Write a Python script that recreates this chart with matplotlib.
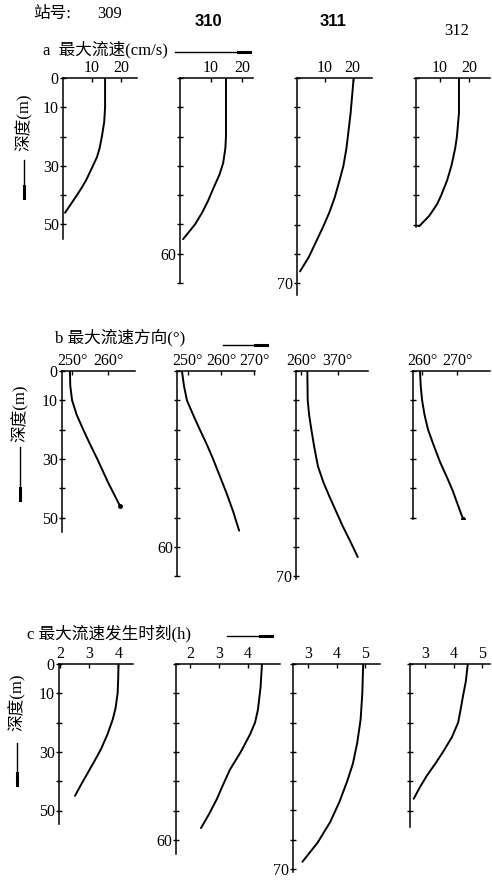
import matplotlib.pyplot as plt

plt.rcParams['font.family'] = ['Liberation Serif', 'Noto Sans CJK SC']

W, H = 492, 884
PX_PER_M = 2.93

stations = ['309', '310', '311', '312']

# a: max current speed (cm/s) vs depth (m)
a309_depth = [0, 10, 15, 20, 24, 27, 30, 35, 38, 41, 46]
a309_speed = [14.5, 14.5, 14.2, 13.4, 12.6, 11.7, 10.3, 7.9, 6.1, 4.1, 0.7]
a310_depth = [0, 20, 24, 29, 33, 38, 42, 46, 50, 55]
a310_speed = [14.8, 14.8, 14.6, 13.9, 12.7, 10.6, 9.0, 7.1, 4.8, 1.0]
a311_depth = [0, 12, 24, 30, 35, 41, 46, 51, 55, 61, 66]
a311_speed = [20.4, 19.3, 17.8, 16.7, 15.3, 13.5, 11.6, 9.3, 7.3, 4.3, 1.1]
a312_depth = [0, 12, 20, 24, 30, 35, 40, 43, 47, 51]
a312_speed = [16.5, 16.5, 15.8, 15.2, 13.9, 12.4, 10.4, 9.0, 6.3, 2.4]

# b: direction of max current (deg)
b309_depth = [0, 5, 10, 15, 20, 25, 30, 38, 46]
b309_dir = [249.4, 249.5, 250.0, 251.3, 253.1, 255.0, 257.0, 260.0, 263.3]
b310_depth = [0, 5, 10, 15, 20, 25, 30, 36, 42, 48, 54.5]
b310_dir = [248.2, 248.8, 249.7, 251.6, 253.6, 255.7, 257.6, 259.7, 261.8, 263.7, 265.5]
b311_depth = [0, 10, 15, 20, 26, 32.5, 38, 43, 48, 53, 58, 63.5]
b311_dir = [261.7, 261.8, 262.2, 262.8, 263.6, 264.6, 266.1, 267.8, 269.6, 271.4, 273.4, 275.5]
b312_depth = [0, 5, 10, 15, 20, 25, 31, 36, 41, 46, 50.5]
b312_dir = [259.4, 259.6, 260.0, 260.7, 261.7, 263.2, 265.1, 267.0, 268.8, 270.3, 271.7]

# c: time of max current (h)
c309_depth = [0, 5, 10, 15, 19, 24, 29, 33, 37, 41, 45]
c309_time = [4.0, 3.99, 3.97, 3.9, 3.8, 3.62, 3.4, 3.18, 2.95, 2.72, 2.5]
c310_depth = [0, 8, 15.6, 20, 24, 30, 36, 41, 46, 51, 56]
c310_time = [4.48, 4.43, 4.34, 4.24, 4.07, 3.75, 3.38, 3.15, 2.93, 2.67, 2.38]
c311_depth = [0, 10, 19, 27, 34, 40, 47, 54, 61, 67.5]
c311_time = [4.93, 4.9, 4.84, 4.72, 4.57, 4.37, 4.1, 3.77, 3.33, 2.8]
c312_depth = [0, 6, 11, 16, 20, 25, 30, 34, 38, 42, 46]
c312_time = [4.5, 4.43, 4.33, 4.24, 4.16, 3.94, 3.63, 3.36, 3.07, 2.82, 2.6]

a_ticks = [10, 20]
a_ticklabels = ['10', '20']
b_ticks = {'309': [250, 260], '310': [250, 260, 270], '311': [260, 270], '312': [260, 270]}
b_ticklabels = {'309': ['250°', '260°'], '310': ['250°', '260°', '270°'],
                '311': ['260°', '370°'], '312': ['260°', '270°']}
c_ticks = {'309': [2, 3, 4], '310': [2, 3, 4], '311': [3, 4, 5], '312': [3, 4, 5]}

depth_labels = {'309': {0: '0', 10: '10', 30: '30', 50: '50'},
                '310': {60: '60'}, '311': {70: '70'}, '312': {}}


def fx(x):
    return x / W


def fy(y):
    return 1 - y / H


fig = plt.figure(figsize=(W / 100, H / 100), dpi=100)


def panel(left, right, top, dmax, xlim, depth, vals, ticks, ticklabels, st, end_dot=False):
    h = dmax * PX_PER_M
    ax = fig.add_axes([fx(left), fy(top + h), (right - left) / W, h / H])
    ax.plot(vals, depth, color='black', lw=1.4, solid_capstyle='round', solid_joinstyle='round')
    if end_dot:
        ax.plot(vals[-1], depth[-1], 'o', color='black', ms=2.5)
    ax.set_xlim(*xlim)
    ax.set_ylim(dmax, 0)
    for s in ['right', 'bottom']:
        ax.spines[s].set_visible(False)
    for s in ['left', 'top']:
        ax.spines[s].set_linewidth(1.1)
    ax.xaxis.tick_top()
    ax.set_xticks(ticks)
    ax.set_xticklabels(ticklabels)
    yt = list(range(0, int(dmax) + 1, 10))
    ax.set_yticks(yt)
    ax.set_yticklabels([depth_labels[st].get(t, '') for t in yt])
    ax.tick_params(axis='x', direction='in', length=3, width=1, pad=1.5, labelsize=11.5)
    ax.tick_params(axis='y', direction='inout', length=4, width=1, pad=1, labelsize=11.5)
    ax.patch.set_alpha(0)
    return ax


# row a
panel(63, 137, 78, 55, (0, 25.5), a309_depth, a309_speed, a_ticks, a_ticklabels, '309')
panel(180, 253, 78, 70, (0, 23.5), a310_depth, a310_speed, a_ticks, a_ticklabels, '310')
panel(297, 372, 78, 74, (0, 27), a311_depth, a311_speed, a_ticks, a_ticklabels, '311')
panel(416, 490, 78, 51, (1.7, 27.2), a312_depth, a312_speed, a_ticks, a_ticklabels, '312')

# row b
panel(62, 135, 371, 55, (247.2, 267.5), b309_depth, b309_dir, b_ticks['309'], b_ticklabels['309'], '309', True)
panel(177, 255, 371, 70, (246.7, 270.3), b310_depth, b310_dir, b_ticks['310'], b_ticklabels['310'], '310')
panel(296, 368, 371, 71, (258.6, 278.3), b311_depth, b311_dir, b_ticks['311'], b_ticklabels['311'], '311')
panel(413, 490, 371, 50.5, (257.4, 279.4), b312_depth, b312_dir, b_ticks['312'], b_ticklabels['312'], '312', True)

# row c
panel(59, 133, 664, 54.5, (1.95, 4.5), c309_depth, c309_time, c_ticks['309'], [str(t) for t in c_ticks['309']], '309')
panel(176, 280, 664, 65, (1.52, 5.1), c310_depth, c310_time, c_ticks['310'], [str(t) for t in c_ticks['310']], '310')
panel(293, 380, 664, 71, (2.47, 5.52), c311_depth, c311_time, c_ticks['311'], [str(t) for t in c_ticks['311']], '311')
panel(410, 490, 664, 55.5, (2.47, 5.28), c312_depth, c312_time, c_ticks['312'], [str(t) for t in c_ticks['312']], '312')

# header
fig.text(fx(33), fy(14), '站号:', fontsize=12, va='center', ha='left')
fig.text(fx(110), fy(14), stations[0], fontsize=12, va='center', ha='center')
fig.text(fx(208), fy(21), stations[1], fontsize=12, va='center', ha='center',
         family='Liberation Sans', weight='bold')
fig.text(fx(333), fy(22), stations[2], fontsize=12, va='center', ha='center',
         family='Liberation Sans', weight='bold')
fig.text(fx(457), fy(31), stations[3], fontsize=12, va='center', ha='center')

# row titles and arrows
titles = [('a  最大流速(cm/s)', 43, 50, 175, 250, 52),
          ('b 最大流速方向(°)', 55, 338, 223, 267, 345),
          ('c 最大流速发生时刻(h)', 27, 633, 227, 272, 636)]
for txt, tx, ty, x0, x1, ay in titles:
    fig.text(fx(tx), fy(ty), txt, fontsize=12, va='center', ha='left')
    fig.add_artist(plt.Line2D([fx(x0), fx(x1)], [fy(ay), fy(ay)], color='black', lw=1.0))
    fig.add_artist(plt.Line2D([fx(x1 - 12), fx(x1)], [fy(ay), fy(ay)], color='black', lw=2.2))

# depth axis labels with downward arrows
ylabels = [(24, 122, 160, 198), (20, 413, 447, 500), (17, 702, 743, 785)]
for x, yc, a0, a1 in ylabels:
    fig.text(fx(x), fy(yc), '深度(m)', fontsize=12, rotation=90, va='center', ha='center')
    fig.add_artist(plt.Line2D([fx(x), fx(x)], [fy(a0), fy(a1)], color='black', lw=1.0))
    fig.add_artist(plt.Line2D([fx(x), fx(x)], [fy(a1 - 12), fy(a1)], color='black', lw=2.2))

fig.savefig('out.png', dpi=100)
